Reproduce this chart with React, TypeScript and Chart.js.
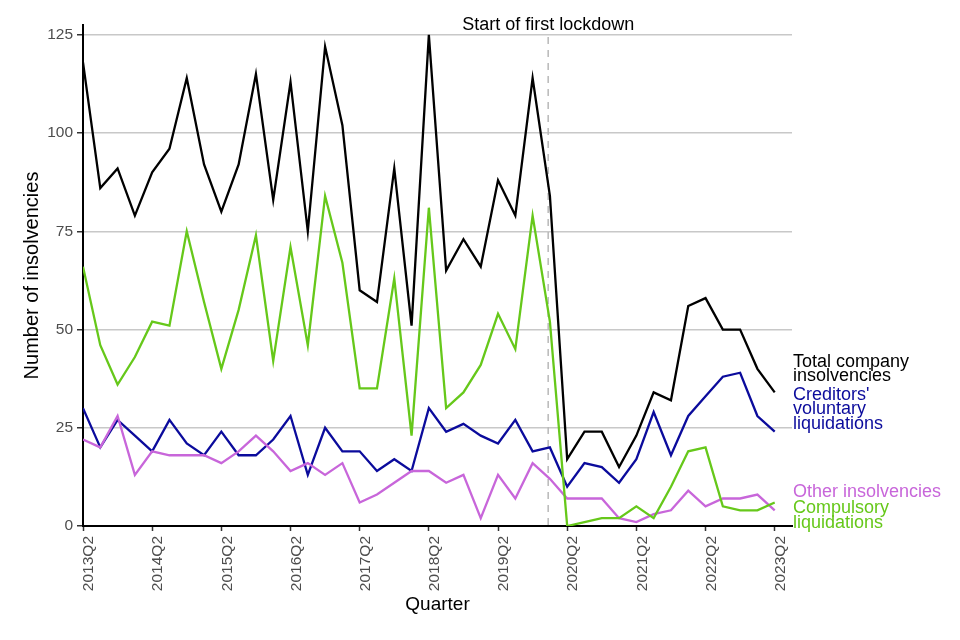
import React, { useEffect, useRef } from "react";
import { Chart, registerables } from "chart.js";

Chart.register(...registerables);

const quarters = [
  "2013Q2", "2013Q3", "2013Q4", "2014Q1", "2014Q2", "2014Q3", "2014Q4",
  "2015Q1", "2015Q2", "2015Q3", "2015Q4", "2016Q1", "2016Q2", "2016Q3",
  "2016Q4", "2017Q1", "2017Q2", "2017Q3", "2017Q4", "2018Q1", "2018Q2",
  "2018Q3", "2018Q4", "2019Q1", "2019Q2", "2019Q3", "2019Q4", "2020Q1",
  "2020Q2", "2020Q3", "2020Q4", "2021Q1", "2021Q2", "2021Q3", "2021Q4",
  "2022Q1", "2022Q2", "2022Q3", "2022Q4", "2023Q1", "2023Q2",
];

const totalInsolvencies = [
  118, 86, 91, 79, 90, 96, 114, 92, 80, 92, 115, 83, 113, 75, 122, 102, 60, 57,
  91, 51, 125, 65, 73, 66, 88, 79, 114, 84, 17, 24, 24, 15, 23, 34, 32, 56, 58,
  50, 50, 40, 34,
];
const creditorsVoluntary = [
  30, 20, 27, 23, 19, 27, 21, 18, 24, 18, 18, 22, 28, 13, 25, 19, 19, 14, 17, 14,
  30, 24, 26, 23, 21, 27, 19, 20, 10, 16, 15, 11, 17, 29, 18, 28, 33, 38, 39, 28,
  24,
];
const compulsoryLiquidations = [
  66, 46, 36, 43, 52, 51, 75, 57, 40, 55, 74, 42, 71, 46, 84, 67, 35, 35, 63, 23,
  81, 30, 34, 41, 54, 45, 79, 52, 0, 1, 2, 2, 5, 2, 10, 19, 20, 5, 4, 4, 6,
];
const otherInsolvencies = [
  22, 20, 28, 13, 19, 18, 18, 18, 16, 19, 23, 19, 14, 16, 13, 16, 6, 8, 11, 14,
  14, 11, 13, 2, 13, 7, 16, 12, 7, 7, 7, 2, 1, 3, 4, 9, 5, 7, 7, 8, 4,
];

const xTickIndices = [0, 4, 8, 12, 16, 20, 24, 28, 32, 36, 40];
const yTickValues = [0, 25, 50, 75, 100, 125];

const lockdownLabel = "Start of first lockdown";
const lockdownIndex = 26.9;

const seriesNames = [
  ["Total company", "insolvencies"],
  ["Creditors'", "voluntary", "liquidations"],
  ["Other insolvencies"],
  ["Compulsory", "liquidations"],
];
const seriesLabelValues = [39.9, 29.7, 8.7, 2.7];

const COLORS = ["#000000", "#0b0b9c", "#c866da", "#66c81a"];
const FONT = "'Liberation Sans', Arial, sans-serif";

const annotPlugin = {
  id: "annot",
  beforeDatasetsDraw(chart: any) {
    const { ctx, chartArea, scales } = chart;
    const x = scales.x.getPixelForValue(lockdownIndex);
    ctx.save();
    ctx.strokeStyle = "#b8b8b8";
    ctx.lineWidth = 1.5;
    ctx.setLineDash([7, 6]);
    ctx.beginPath();
    ctx.moveTo(x, chartArea.top + 12);
    ctx.lineTo(x, chartArea.bottom);
    ctx.stroke();
    ctx.restore();
  },
  afterDraw(chart: any) {
    const { ctx, chartArea, scales } = chart;
    ctx.save();
    ctx.font = `18px ${FONT}`;
    ctx.fillStyle = "#000";
    ctx.textAlign = "center";
    ctx.textBaseline = "middle";
    const x = scales.x.getPixelForValue(lockdownIndex);
    ctx.fillText(lockdownLabel, x, chartArea.top);

    ctx.textAlign = "left";
    const lh = 14.5;
    seriesNames.forEach((lines, i) => {
      const cy = scales.y.getPixelForValue(seriesLabelValues[i]);
      const y0 = cy - ((lines.length - 1) * lh) / 2;
      ctx.fillStyle = COLORS[i];
      lines.forEach((t, j) => ctx.fillText(t, chartArea.right + 1, y0 + j * lh));
    });
    ctx.restore();
  },
};

export default function App() {
  const ref = useRef<HTMLCanvasElement>(null);
  useEffect(() => {
    if (!ref.current) return;
    const series = [totalInsolvencies, creditorsVoluntary, otherInsolvencies, compulsoryLiquidations];
    const chart = new Chart(ref.current, {
      type: "line",
      data: {
        datasets: series.map((s, i) => ({
          label: seriesNames[i].join(" "),
          data: s.map((y, k) => ({ x: k, y })),
          borderColor: COLORS[i],
          backgroundColor: COLORS[i],
          borderWidth: 2.3,
          pointRadius: 0,
          tension: 0,
          fill: false,
          order: i === 0 ? 3 : i === 1 ? 2 : i === 2 ? 1 : 0,
        })),
      },
      options: {
        responsive: false,
        animation: false,
        layout: { padding: { top: 25, right: 168, left: 0, bottom: 0 } },
        plugins: { legend: { display: false }, tooltip: { enabled: false } },
        scales: {
          x: {
            type: "linear",
            min: 0,
            max: 41,
            afterBuildTicks: (s: any) => {
              s.ticks = xTickIndices.map((v) => ({ value: v }));
            },
            afterFit: (s: any) => {
              s.height = 114;
            },
            grid: { drawOnChartArea: false, tickLength: 5, tickColor: "#333", tickWidth: 1.5 },
            border: { color: "#000", width: 2 },
            ticks: {
              autoSkip: false,
              maxRotation: 90,
              minRotation: 90,
              padding: 5,
              labelOffset: 6,
              color: "#4d4d4d",
              font: { size: 15.5, family: FONT },
              callback: (v: any) => quarters[v] ?? "",
            },
            title: {
              display: true,
              text: "Quarter",
              color: "#000",
              font: { size: 19, family: FONT },
              padding: { top: 0, bottom: 24 },
            },
          },
          y: {
            min: 0,
            max: 127.5,
            afterBuildTicks: (s: any) => {
              s.ticks = yTickValues.map((v) => ({ value: v }));
            },
            afterFit: (s: any) => {
              s.width = 83;
            },
            grid: { color: "#c8c8c8", lineWidth: 1.5, tickColor: "#333", tickLength: 6, tickWidth: 1.5 },
            border: { color: "#000", width: 2 },
            ticks: { padding: 4, color: "#4d4d4d", font: { size: 15.5, family: FONT } },
            title: {
              display: true,
              text: "Number of insolvencies",
              color: "#000",
              font: { size: 20, family: FONT },
              padding: { top: 20, bottom: 0 },
            },
          },
        },
      },
      plugins: [annotPlugin],
    });
    return () => chart.destroy();
  }, []);
  return (
    <div style={{ position: "absolute", left: 0, top: 0, width: 960, height: 640, background: "#fff" }}>
      <canvas ref={ref} width={960} height={640} style={{ width: 960, height: 640 }} />
    </div>
  );
}
